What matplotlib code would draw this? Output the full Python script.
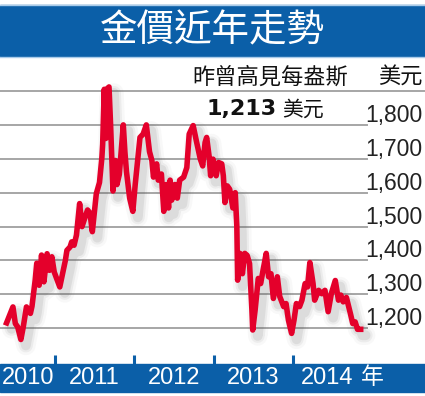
import matplotlib
matplotlib.use("Agg")
import matplotlib.pyplot as plt
from matplotlib.patches import Rectangle
from matplotlib.transforms import offset_copy

# Gold price, USD per ounce
years = [
    2010.39, 2010.47, 2010.50, 2010.53, 2010.57, 2010.60, 2010.64, 2010.69,
    2010.71, 2010.75, 2010.77, 2010.80, 2010.83, 2010.86, 2010.90, 2010.93,
    2010.96, 2010.99, 2011.06, 2011.13, 2011.15, 2011.19, 2011.21, 2011.24,
    2011.27, 2011.31, 2011.34, 2011.38, 2011.41, 2011.44, 2011.47, 2011.52,
    2011.56, 2011.59, 2011.60, 2011.62, 2011.64, 2011.65, 2011.68, 2011.70,
    2011.73, 2011.76, 2011.78, 2011.81, 2011.86, 2011.88, 2011.90, 2011.94,
    2011.98, 2012.01, 2012.07, 2012.11, 2012.15, 2012.19, 2012.22, 2012.24,
    2012.28, 2012.30, 2012.34, 2012.37, 2012.40, 2012.43, 2012.45, 2012.47,
    2012.51, 2012.54, 2012.57, 2012.62, 2012.66, 2012.69, 2012.74, 2012.78,
    2012.83, 2012.86, 2012.89, 2012.91, 2012.94, 2012.96, 2012.99, 2013.03,
    2013.06, 2013.10, 2013.12, 2013.14, 2013.17, 2013.20, 2013.24, 2013.27,
    2013.29, 2013.30, 2013.33, 2013.36, 2013.39, 2013.42, 2013.45, 2013.48,
    2013.49, 2013.52, 2013.56, 2013.59, 2013.62, 2013.66, 2013.69, 2013.72,
    2013.75, 2013.80, 2013.83, 2013.88, 2013.91, 2013.94, 2013.98, 2014.01,
    2014.04, 2014.08, 2014.11, 2014.15, 2014.18, 2014.21, 2014.25, 2014.27,
    2014.32, 2014.36, 2014.40, 2014.44, 2014.48, 2014.53, 2014.57, 2014.60,
    2014.63, 2014.67, 2014.72, 2014.75, 2014.78, 2014.81, 2014.85,
]
prices = [
    1216, 1263, 1214, 1204, 1167, 1204, 1263, 1244,
    1265, 1342, 1392, 1327, 1416, 1337, 1420, 1371,
    1411, 1366, 1322, 1400, 1430, 1440, 1455, 1445,
    1475, 1568, 1500, 1529, 1549, 1540, 1485, 1597,
    1630, 1703, 1743, 1905, 1760, 1905, 1912, 1800,
    1605, 1695, 1624, 1654, 1800, 1721, 1662, 1584,
    1545, 1624, 1763, 1773, 1800, 1721, 1695, 1646,
    1685, 1637, 1655, 1545, 1624, 1555, 1637, 1578,
    1624, 1584, 1637, 1646, 1674, 1773, 1798, 1753,
    1699, 1679, 1748, 1763, 1709, 1650, 1699, 1650,
    1689, 1685, 1650, 1571, 1620, 1610, 1555, 1600,
    1500, 1342, 1421, 1361, 1421, 1415, 1391, 1253,
    1195, 1253, 1347, 1332, 1371, 1421, 1352, 1361,
    1288, 1352, 1294, 1264, 1273, 1224, 1185, 1224,
    1273, 1264, 1283, 1332, 1322, 1394, 1332, 1283,
    1312, 1302, 1312, 1249, 1302, 1341, 1283, 1298,
    1278, 1291, 1244, 1214, 1219, 1197, 1197,
]

grid_levels = [1200, 1300, 1400, 1500, 1600, 1700, 1800]
tick_labels = ["1,200", "1,300", "1,400", "1,500", "1,600", "1,700", "1,800"]
year_ticks = [2011, 2012, 2013, 2014]
year_labels = ["2010", "2011", "2012", "2013", "2014"]
year_label_pos = [2010.66, 2011.49, 2012.50, 2013.50, 2014.43]

BLUE = "#0b5fa8"
RED = "#e4002b"
CJK = ["Noto Sans CJK TC", "DejaVu Sans"]
W, H = 425, 396


def fy(py):
    # pixel row -> axes/figure fraction (axes fills the figure)
    return 1 - py / H


fig = plt.figure(figsize=(W / 100, H / 100), dpi=100)
ax = fig.add_axes([0, 0, 1, 1])
ax.set_xlim(2010.307, 2015.66)
ax.set_ylim(1000.3, 2168.4)
ax.axis("off")

# gridlines
for lvl in grid_levels:
    ax.axhline(lvl, xmin=0, xmax=0.864, color="#a6a6a6", lw=1.4, zorder=1)
ax.axhline(1900, xmin=0, xmax=1, color="#a6a6a6", lw=1.4, zorder=1)

# soft shadow under the line
for lw, a in [(14, 0.04), (10, 0.07), (7, 0.10)]:
    tr = offset_copy(ax.transData, fig=fig, x=5, y=-6, units="dots")
    ax.plot(years, prices, color="#555555", lw=lw, alpha=a,
            solid_joinstyle="round", solid_capstyle="round",
            transform=tr, zorder=2)
ax.plot(years, prices, color=RED, lw=4.0, solid_joinstyle="round",
        zorder=3)

# right-side value labels
for lvl, lab in zip(grid_levels, tick_labels):
    ax.annotate(lab, (2015.63, lvl), xytext=(0, 2.2), textcoords="offset points",
                ha="right", va="baseline", fontsize=16.5, color="#222222",
                family="Liberation Sans")

# title bar
ax.add_patch(Rectangle((0, fy(56)), 1, 51 / H, transform=ax.transAxes,
                       color=BLUE, zorder=0))
ax.plot([0, 1], [fy(5), fy(5)], transform=ax.transAxes, color="#a9cbea", lw=1)
ax.plot([0, 1], [fy(57), fy(57)], transform=ax.transAxes, color="#a9cbea", lw=1)
ax.text(0.5, fy(31), "金價近年走勢", transform=ax.transAxes, ha="center",
        va="center", fontsize=27, color="white", family=CJK)

# annotations
ax.text(270 / W, fy(77), "昨曾高見每盎斯", transform=ax.transAxes,
        ha="center", va="center", fontsize=16, color="#111111", family=CJK)
ax.text(400 / W, fy(77), "美元", transform=ax.transAxes, ha="center",
        va="center", fontsize=16, color="#111111", family=CJK)
ax.text(277 / W, fy(109.5), "1,213", transform=ax.transAxes, ha="right",
        va="center", fontsize=16, fontweight="bold", color="#111111",
        family="DejaVu Sans")
ax.text(282 / W, fy(110), "美元", transform=ax.transAxes, ha="left",
        va="center", fontsize=15, color="#111111", family=CJK)

# bottom year bar
ax.add_patch(Rectangle((0, fy(392)), 1, 28 / H, transform=ax.transAxes,
                       color=BLUE, zorder=0))
ax.vlines(year_ticks, 1094, 1122, color=BLUE, lw=2.2, zorder=1)
for pos, lab in zip(year_label_pos, year_labels):
    ax.text(pos, fy(378), lab, transform=ax.get_xaxis_transform(),
            ha="center", va="center", fontsize=17, color="white",
            family="Liberation Sans", zorder=4)
ax.text(2011 + (372 - 55) / 79.4, fy(378), "年",
        transform=ax.get_xaxis_transform(), ha="center", va="center",
        fontsize=16.5, color="white", family=CJK, zorder=4)

fig.savefig("out.png", dpi=100)
